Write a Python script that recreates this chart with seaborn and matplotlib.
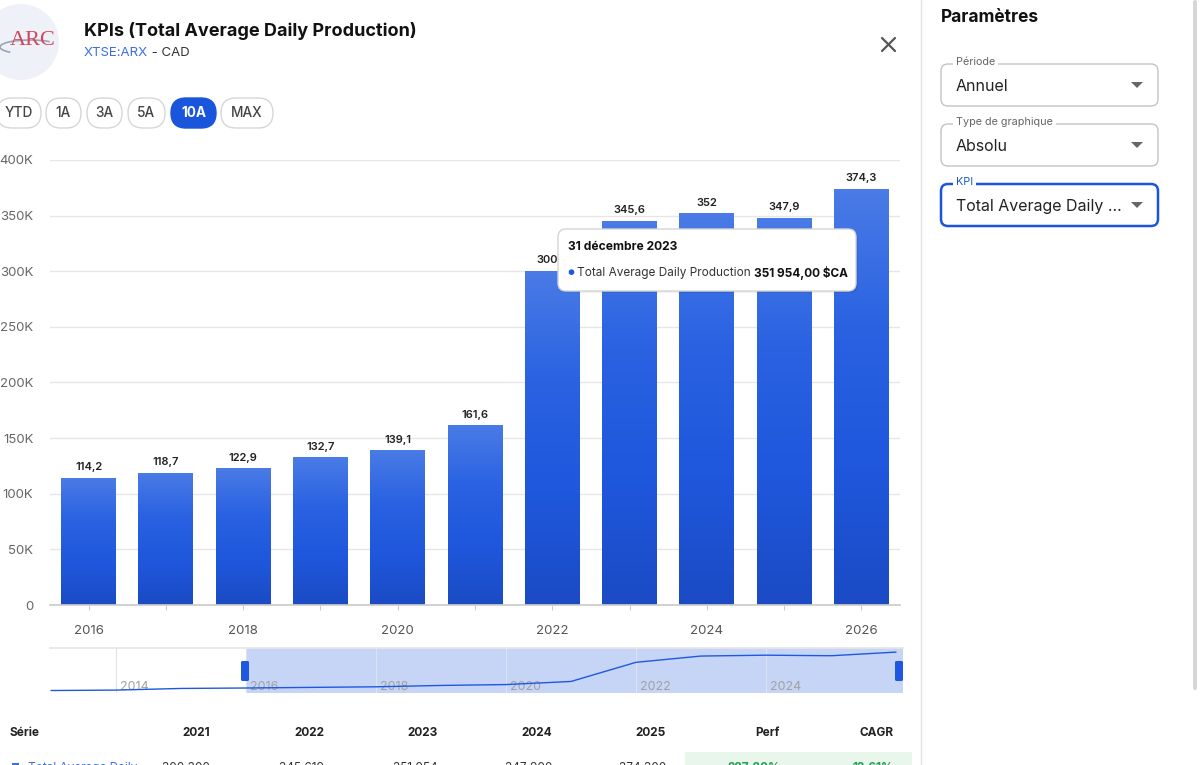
import numpy as np
import pandas as pd
import matplotlib
matplotlib.use("Agg")
import matplotlib.pyplot as plt
import seaborn as sns
from matplotlib.patches import FancyBboxPatch, Rectangle, Circle, Arc, Polygon
from matplotlib.colors import LinearSegmentedColormap
from matplotlib.ticker import FuncFormatter

# ---------------- data ----------------
bar_years = ["2016", "2017", "2018", "2019", "2020", "2021",
             "2022", "2023", "2024", "2025", "2026"]
bar_values_k = [114.2, 118.7, 122.9, 132.7, 139.1, 161.6,
                300.3, 345.6, 352.0, 347.9, 374.3]
x_tick_labels = ["2016", "", "2018", "", "2020", "", "2022", "", "2024", "", "2026"]
y_ticks = [0, 50000, 100000, 150000, 200000, 250000, 300000, 350000, 400000]

nav_years = [2013, 2014, 2015, 2016, 2017, 2018, 2019, 2020,
             2021, 2022, 2023, 2024, 2025, 2026]
nav_values_k = [96, 99, 111, 114.2, 118.7, 122.9, 132.7, 139.1,
                161.6, 300.3, 345.6, 352.0, 347.9, 374.3]
nav_label_years = [2014, 2016, 2018, 2020, 2022, 2024]

range_buttons = ["YTD", "1A", "3A", "5A", "10A", "MAX"]
active_button = "10A"

table_headers = ["2021", "2022", "2023", "2024", "2025", "Perf", "CAGR"]
table_values = ["300 300", "345 619", "351 954", "347 900", "374 300", "227,80%", "12,61%"]

title = "KPIs (Total Average Daily Production)"
ticker = "XTSE:ARX"
currency = " - CAD"
tooltip_date = "31 décembre 2023"
tooltip_series = "Total Average Daily Production"
tooltip_value = "351 954,00 $CA"

params = [("Période", "Annuel"), ("Type de graphique", "Absolu"), ("KPI", "Total Average Daily ...")]

# ---------------- style ----------------
sns.set_theme(style="white")
plt.rcParams["font.family"] = ["Inter", "DejaVu Sans"]

BLUE = "#1a56db"
W, H = 1200, 765
fig = plt.figure(figsize=(12, 7.65), dpi=100)
fig.patch.set_facecolor("white")


def fbox(x0, y0, x1, y1):
    return [x0 / W, 1 - y1 / H, (x1 - x0) / W, (y1 - y0) / H]


# ---------------- main bar chart ----------------
ax = fig.add_axes(fbox(50, 160, 900, 605))
df = pd.DataFrame({"year": bar_years, "value": np.array(bar_values_k) * 1000})
sns.barplot(data=df, x="year", y="value", ax=ax, color="#1f58e0",
            width=0.71, saturation=1, zorder=3)

cmap = LinearSegmentedColormap.from_list("g", ["#1b4bc4", "#1f57dd", "#2a62e2", "#4a7be6"])
grad = np.linspace(0, 1, 256).reshape(-1, 1)
for p in list(ax.patches):
    x0, y0, w, h = p.get_x(), p.get_y(), p.get_width(), p.get_height()
    im = ax.imshow(grad, extent=[x0, x0 + w, y0, y0 + h], origin="lower",
                   aspect="auto", cmap=cmap, zorder=4)
    im.set_clip_path(p)
    p.set_edgecolor("none")

for i, v in enumerate(bar_values_k):
    lab = f"{v:.1f}".replace(".", ",")
    if lab.endswith(",0"):
        lab = lab[:-2]
    ax.annotate(lab, (i, v * 1000), xytext=(0, 4), textcoords="offset points",
                ha="center", va="bottom", fontsize=8, fontweight="semibold",
                color="#222222", zorder=6)

ax.set_xlim(-0.5, 10.5)
ax.set_ylim(0, 400000)
ax.set_yticks(y_ticks)
ax.yaxis.set_major_formatter(FuncFormatter(lambda v, _: "0" if v == 0 else f"{v/1000:.0f}K"))
ax.set_xticks(range(len(bar_years)))
ax.set_xticklabels(x_tick_labels)
ax.set_xlabel("")
ax.set_ylabel("")
ax.yaxis.grid(True, color="#e6e6e6", lw=1)
ax.set_axisbelow(True)
for s in ["top", "right", "left"]:
    ax.spines[s].set_visible(False)
ax.spines["bottom"].set_color("#cccccc")
ax.spines["bottom"].set_zorder(7)
ax.tick_params(axis="y", length=0, pad=12, labelsize=9.5, labelcolor="#666666")
ax.tick_params(axis="x", length=3.6, width=0.8, color="#cccccc", pad=11,
               labelsize=9.5, labelcolor="#555555", bottom=True)
ax.patch.set_alpha(0)

# ---------------- navigator ----------------
axn = fig.add_axes(fbox(50, 648, 903, 693))
nav_left = 2014 - 66 / 65
nav_right = nav_left + 853 / 65
axn.axvspan(2016, nav_right, color="#c6d5f5", zorder=0, lw=0)
for yr in nav_label_years:
    axn.axvline(yr, color="#dde3ee", lw=0.8, zorder=1)
sns.lineplot(x=nav_years, y=np.array(nav_values_k) * 1000, ax=axn,
             color="#1f58e0", lw=1.0, zorder=3)
axn.set_xlim(nav_left, nav_right)
axn.set_ylim(78000, 404000)
for yr in nav_label_years:
    axn.text(yr + 4 / 65, 0.13, str(yr), transform=axn.get_xaxis_transform(),
             ha="left", va="center", fontsize=9, color="#a0a0a0", zorder=2)
axn.set_xticks([])
axn.set_yticks([])
axn.set_xlabel("")
axn.set_ylabel("")
for s in axn.spines.values():
    s.set_visible(False)
axn.spines["top"].set_visible(True)
axn.spines["top"].set_color("#e6e6e6")
axn.patch.set_alpha(0)

# ---------------- UI overlay ----------------
ui = fig.add_axes([0, 0, 1, 1], zorder=10)
ui.set_xlim(0, W)
ui.set_ylim(H, 0)
ui.axis("off")

# logo
ui.add_patch(Circle((21, 42), 38, fc="#eef1f7", ec="none"))
ui.add_patch(Arc((30, 47), 60, 14, theta1=165, theta2=345, color="#9aa3b5", lw=1.2))
ui.text(33, 40, "ARC", ha="center", va="center", fontsize=16, color="#d0485a",
        family=["Liberation Serif", "DejaVu Serif"])

# title
ui.text(84, 31, title, ha="left", va="center", fontsize=13, fontweight="bold", color="#111111")
t1 = ui.text(84, 53, ticker, ha="left", va="center", fontsize=9.5, color="#3b6fe0")
renderer = fig.canvas.get_renderer()
bb = t1.get_window_extent(renderer)
ui.text(bb.x1, 53, currency, ha="left", va="center", fontsize=9.5, color="#333333")

# close
ui.plot([882, 895], [38, 51], color="#555555", lw=1.6)
ui.plot([882, 895], [51, 38], color="#555555", lw=1.6)

# range buttons
btn_x = [(-3, 41), (46, 81), (87, 122), (128, 165), (171, 216), (221, 273)]
for (x0, x1), lab in zip(btn_x, range_buttons):
    active = lab == active_button
    ui.add_patch(FancyBboxPatch((x0, 98), x1 - x0, 30,
                                boxstyle="round,pad=0,rounding_size=15",
                                fc=BLUE if active else "white",
                                ec=BLUE if active else "#d6d6d6", lw=1))
    ui.text((x0 + x1) / 2, 113, lab, ha="center", va="center", fontsize=9.8,
            fontweight="bold" if active else "medium",
            color="white" if active else "#444444")

# tooltip
ui.add_patch(FancyBboxPatch((560, 231), 298, 62, boxstyle="round,pad=0,rounding_size=8",
                            fc="#000000", ec="none", alpha=0.06))
ui.add_patch(FancyBboxPatch((558, 229), 298, 62, boxstyle="round,pad=0,rounding_size=8",
                            fc="white", ec="#d4d4d4", lw=1))
ui.text(568, 247, tooltip_date, ha="left", va="center", fontsize=8.7, fontweight="bold", color="#111111")
ui.text(567, 273, "●", ha="left", va="center", fontsize=5.5, color="#1f58e0")
t2 = ui.text(577, 273, tooltip_series, ha="left", va="center", fontsize=8.5, color="#333333")
bb2 = t2.get_window_extent(renderer)
ui.text(bb2.x1 + 3, 273, tooltip_value, ha="left", va="center", fontsize=8.5,
        fontweight="bold", color="#111111")

# navigator handles
for hx in (241, 895):
    ui.add_patch(FancyBboxPatch((hx, 661), 8, 20, boxstyle="round,pad=0,rounding_size=1.5",
                                fc="#1f58e0", ec="none"))

# right panel
ui.plot([921, 921], [0, H], color="#e3e3e3", lw=1)
ui.add_patch(FancyBboxPatch((1193, 0), 4, 690, boxstyle="round,pad=0,rounding_size=2",
                            fc="#d6d6d6", ec="none"))
ui.text(941, 17, "Paramètres", ha="left", va="center", fontsize=12.5, fontweight="bold", color="#111111")
box_y = [64, 124, 184]
for (lab, val), y0 in zip(params, box_y):
    kpi = lab == "KPI"
    ui.add_patch(FancyBboxPatch((941, y0), 217, 42, boxstyle="round,pad=0,rounding_size=7",
                                fc="none", ec=BLUE if kpi else "#c4c4c4", lw=1.8 if kpi else 1))
    ui.text(956, y0 - 2, lab, ha="left", va="center", fontsize=7.8,
            color=BLUE if kpi else "#666666",
            bbox=dict(boxstyle="square,pad=0.25", fc="white", ec="none"))
    ui.text(956, y0 + 22, val, ha="left", va="center", fontsize=11.5, color="#222222")
    ui.add_patch(Polygon([[1131, y0 + 18], [1143, y0 + 18], [1137, y0 + 24]],
                         closed=True, fc="#666666", ec="none"))

# table
col_x = [210, 324, 438, 552, 666, 780, 894]
ui.text(10, 733, "Série", ha="left", va="center", fontsize=8.5, fontweight="bold", color="#222222")
for x, h in zip(col_x, table_headers):
    ui.text(x, 733, h, ha="right", va="center", fontsize=8.5, fontweight="bold", color="#222222")
ui.add_patch(Rectangle((685, 752), 227, 20, fc="#e8f6ec", ec="none"))
ui.add_patch(Rectangle((12, 763), 7, 7, fc="#3b6fe0", ec="none"))
ui.text(28, 768, "Total Average Daily", ha="left", va="center", fontsize=8.5, color="#3b6fe0")
for i, (x, v) in enumerate(zip(col_x, table_values)):
    green = i >= 5
    ui.text(x, 768, v, ha="right", va="center", fontsize=8.5,
            fontweight="bold" if green else "normal",
            color="#22a050" if green else "#333333")

fig.savefig("out.png", dpi=100)
